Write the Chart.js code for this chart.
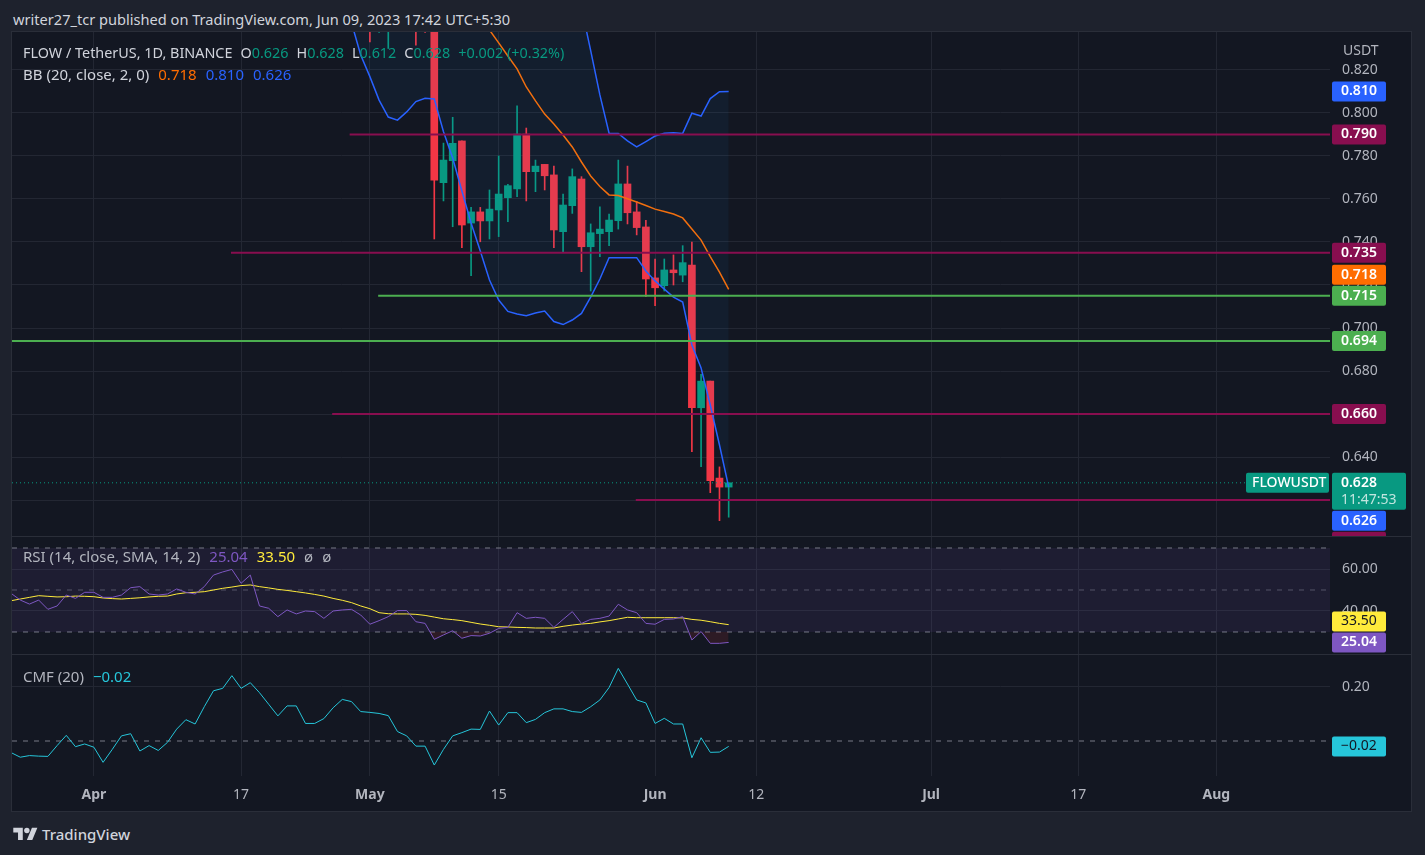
<!DOCTYPE html>
<html>
<head>
<meta charset="utf-8">
<title>FLOW / TetherUS 1D</title>
<script src="https://cdn.jsdelivr.net/npm/chart.js@4.4.1/dist/chart.umd.min.js"></script>
<style>
  body { margin: 0; width: 1425px; height: 855px; background: #1e222d; overflow: hidden; position: relative;
         font-family: "Noto Sans", "DejaVu Sans", sans-serif; color: #d1d4dc; }
  .abs { position: absolute; }
  #frame { left: 11px; top: 31px; width: 1401px; height: 781px; border: 1px solid #2a2e39; box-sizing: border-box; background: #131722; }
  .sep { left: 12px; width: 1399px; height: 1px; background: #2a2e39; }
  canvas { position: absolute; left: 12px; }
  .leg { left: 23px; font-size: 15px; line-height: 20px; white-space: pre; color: #d1d4dc; }
  .leg span { margin-left: 9px; }
  .leg span.v { margin-left: 0; }
  #legMain { font-size: 14.4px; }
  #legMain span { margin-left: 8px; }
  #legMain span.v { margin-left: 0; }
</style>
</head>
<body>
<div class="abs" style="left:13px;top:8px;font-size:14.6px;line-height:22px;color:#d1d4dc">writer27_tcr published on TradingView.com, Jun 09, 2023 17:42 UTC+5:30</div>
<div id="frame" class="abs"></div>
<canvas id="main" width="1398" height="504" style="top:32px"></canvas>
<div class="abs sep" style="top:536px"></div>
<canvas id="rsi" width="1398" height="117" style="top:537px"></canvas>
<div class="abs sep" style="top:654px"></div>
<canvas id="cmf" width="1398" height="155" style="top:655px"></canvas>
<div id="legMain" class="abs leg" style="top:43px"></div>
<div id="legBB" class="abs leg" style="top:64px"></div>
<div id="legRsi" class="abs leg" style="top:546px"></div>
<div id="legCmf" class="abs leg" style="top:666px"></div>
<div class="abs" style="left:13px;top:824px;display:flex;align-items:center">
  <svg width="25" height="19" viewBox="0 0 36 28"><path fill="#d1d4dc" d="M14 22H7V11H0V4h14v18zM28 22h-8l7.5-18h8L28 22z"/><circle fill="#d1d4dc" cx="20" cy="8" r="4"/></svg>
  <span style="margin-left:4px;font-size:15px;font-weight:500;color:#d1d4dc">TradingView</span>
</div>
<script>
// day 0 = 1 Apr 2023, one unit per daily candle
const timeTickDays = [0, 16, 30, 44, 61, 72, 91, 107, 122];
const timeTickLabels = ['Apr', '17', 'May', '15', 'Jun', '12', 'Jul', '17', 'Aug'];

// FLOW/USDT daily candles, first one is 1 May (day 30)
const candleFirstDay = 30;
const opens  = [0.872, 0.845, 0.848, 0.870, 0.855, 0.868, 0.852,
  0.845, 0.7676, 0.7778, 0.787, 0.7488, 0.754, 0.7498, 0.7549, 0.7606, 0.7647, 0.7902, 0.7727, 0.7761, 0.7712,
  0.7448, 0.7569, 0.7693, 0.7378, 0.7439, 0.7448, 0.7499, 0.767, 0.754, 0.747, 0.7233, 0.7197, 0.727, 0.7246,
  0.7293, 0.6629, 0.6753, 0.6302, 0.626];
const highs  = [0.880, 0.870, 0.866, 0.878, 0.875, 0.875, 0.862,
  0.852, 0.786, 0.798, 0.787, 0.7561, 0.7561, 0.7642, 0.780, 0.7668, 0.8033, 0.793, 0.7781, 0.7761, 0.7753,
  0.7623, 0.774, 0.7704, 0.7484, 0.7563, 0.753, 0.7781, 0.7753, 0.7588, 0.7501, 0.7321, 0.7321, 0.734, 0.7383,
  0.740, 0.6784, 0.6753, 0.6354, 0.628];
const lows   = [0.833, 0.8375, 0.830, 0.845, 0.846, 0.8316, 0.8375,
  0.7414, 0.7591, 0.7471, 0.7374, 0.7243, 0.7401, 0.7414, 0.7425, 0.7494, 0.7611, 0.7591, 0.7634, 0.7642, 0.7374,
  0.7355, 0.7533, 0.7262, 0.7172, 0.7332, 0.7383, 0.746, 0.7484, 0.7433, 0.7146, 0.7104, 0.7172, 0.720, 0.7215,
  0.6425, 0.6355, 0.6234, 0.6104, 0.612];
const closes = [0.850, 0.862, 0.858, 0.855, 0.866, 0.848, 0.845,
  0.7688, 0.7781, 0.7859, 0.7479, 0.754, 0.7498, 0.7553, 0.7623, 0.7662, 0.7902, 0.7727, 0.7753, 0.7708, 0.7456,
  0.7572, 0.7704, 0.7378, 0.7443, 0.746, 0.7502, 0.767, 0.7536, 0.7467, 0.7228, 0.7187, 0.727, 0.7257, 0.7304,
  0.6629, 0.6753, 0.629, 0.626, 0.628];

// Bollinger bands (20, 2)
const bandFirstDay = 28;
const bbUpper = [0.978, 0.981, 0.975, 0.968, 0.964, 0.958, 0.955, 0.951, 0.946, 0.941, 0.949, 0.952, 0.947,
  0.944, 0.936, 0.929, 0.921, 0.915, 0.904, 0.897, 0.889, 0.884, 0.876, 0.868, 0.861,
  0.849, 0.829, 0.8084, 0.7906, 0.7905, 0.787, 0.7842, 0.7867, 0.7893, 0.7906, 0.7908, 0.7905,
  0.7999, 0.7986, 0.8067, 0.8099, 0.810];
const bbLower = [0.842, 0.827, 0.8169, 0.806, 0.7981, 0.7967, 0.8005, 0.8053, 0.8068, 0.8065, 0.7913, 0.7791,
  0.7637, 0.7488, 0.7358, 0.7223, 0.713, 0.7077, 0.7065, 0.7057, 0.707, 0.7079, 0.703, 0.7016, 0.7037,
  0.7068, 0.7144, 0.7228, 0.7327, 0.7327, 0.7327, 0.7327, 0.7265, 0.7219, 0.7181, 0.7144, 0.7121,
  0.6921, 0.6814, 0.6642, 0.6456, 0.626];
const basisFirstDay = 40;
const bbBasis = [0.862, 0.857, 0.851, 0.8386, 0.8326, 0.8265, 0.8205, 0.8121, 0.8056, 0.7995, 0.7949, 0.7898,
  0.7842, 0.7772, 0.7707, 0.7658, 0.7619, 0.7616, 0.7601, 0.7586, 0.757, 0.7553, 0.7542, 0.753, 0.7512,
  0.746, 0.7409, 0.7332, 0.726, 0.718];

// drawn support / resistance lines: price and day where each one starts
const levelPrices = [0.790, 0.735, 0.715, 0.694, 0.660, 0.620];
const levelStartDays = [27.8, 14.9, 30.9, -9.2, 25.9, 58.9];

// indicators, first value is 23 Mar (day -9)
const indFirstDay = -9;
const rsiValues = [48.4, 45.2, 43.3, 45.2, 40.8, 42.4, 47.6, 46.0, 48.9, 48.9, 46.5, 46.5, 47.6, 51.1, 51.6,
  48.1, 47.6, 48.1, 50.5, 48.9, 48.1, 51.6, 57.1, 58.6, 59.8, 53.2, 57.1, 42.4, 41.3, 37.3, 40.5, 38.6, 40.0,
  39.7, 36.5, 40.0, 40.5, 40.8, 38.1, 33.7, 35.4, 37.3, 40.2, 40.2, 34.9, 34.1, 26.5, 28.6, 30.6, 27.0, 28.3,
  28.1, 29.4, 31.7, 32.2, 39.2, 36.5, 37.0, 36.5, 32.2, 36.0, 39.7, 34.1, 36.0, 36.5, 37.6, 43.2, 40.5, 39.2,
  34.1, 33.7, 36.0, 36.2, 37.3, 26.2, 30.2, 24.6, 24.6, 25.04];
const rsiSma = [44.9, 45.7, 46.5, 47.3, 47.0, 46.7, 46.8, 47.1, 47.0, 46.8, 46.2, 45.9, 45.7, 46.0, 46.3, 46.7,
  47.0, 47.1, 48.1, 48.7, 48.9, 49.2, 50.0, 50.8, 51.4, 52.1, 52.4, 51.6, 51.0, 50.3, 49.8, 49.2, 48.6, 47.9,
  47.1, 46.0, 45.1, 44.0, 42.4, 41.1, 39.2, 38.7, 38.6, 38.6, 38.4, 37.9, 37.1, 36.3, 35.9, 35.4, 34.6, 33.8,
  33.2, 32.5, 32.4, 32.2, 32.1, 31.9, 31.9, 31.9, 32.7, 33.3, 33.8, 34.1, 34.8, 35.4, 36.2, 37.0, 36.8, 36.8,
  36.8, 36.8, 36.8, 36.7, 36.0, 35.6, 34.9, 34.1, 33.50];
const cmfValues = [-0.043, -0.060, -0.054, -0.056, -0.057, -0.017, 0.021, -0.021, -0.011, -0.023, -0.079,
  -0.031, 0.019, 0.027, -0.037, -0.017, -0.035, -0.005, 0.044, 0.079, 0.063, 0.127, 0.186, 0.195, 0.242,
  0.195, 0.216, 0.179, 0.136, 0.093, 0.130, 0.130, 0.065, 0.065, 0.083, 0.123, 0.154, 0.146, 0.109, 0.106,
  0.102, 0.094, 0.035, 0.019, -0.019, -0.019, -0.089, -0.031, 0.019, 0.031, 0.044, 0.043, 0.111, 0.059,
  0.105, 0.105, 0.068, 0.080, 0.105, 0.119, 0.119, 0.109, 0.106, 0.127, 0.152, 0.198, 0.269, 0.211, 0.152,
  0.141, 0.065, 0.084, 0.063, 0.063, -0.062, 0.012, -0.042, -0.041, -0.02];

// ---- styling ----
const UP = '#089981', DOWN = '#f23645';
const BLUE = '#2962ff', ORANGE = '#ff6d00';
const RES = '#880e4f', SUP = '#4caf50';
const levelColors = [RES, RES, SUP, SUP, RES, RES];
const RSI_COL = '#7e57c2', SMA_COL = '#ffeb3b', CMF_COL = '#26c6da';
const GRID = '#232733', AXIS_TEXT = '#b2b5be', LEVEL = '#787b86';
const X_MIN = -8.9, X_MAX = 134.36;

Chart.defaults.font.family = '"Noto Sans", "DejaVu Sans", sans-serif';
Chart.defaults.font.size = 14;

const pts = (first, arr) => arr.map((v, i) => ({x: first + i, y: v}));
const hline = (from, v) => [{x: from, y: v}, {x: X_MAX, y: v}];
const fmt3 = v => v.toFixed(3);
const fmt2 = v => (v < 0 ? '\u2212' : '') + Math.abs(v).toFixed(2);

function timeAxis(labels) {
  return {
    type: 'linear', min: X_MIN, max: X_MAX, offset: false,
    afterBuildTicks: s => { s.ticks = timeTickDays.map(v => ({value: v})); },
    afterFit: s => { s.height = labels ? 34 : 0; s.paddingLeft = 0; s.paddingRight = 0; },
    grid: {color: GRID, drawTicks: false, offset: false},
    border: {display: false},
    ticks: {
      display: labels, padding: 11, color: AXIS_TEXT, maxRotation: 0, autoSkip: false,
      callback: v => timeTickLabels[timeTickDays.indexOf(v)],
      font: c => ({size: 14, weight: c.tick && isNaN(timeTickLabels[timeTickDays.indexOf(c.tick.value)]) ? 'bold' : 'normal'})
    }
  };
}

function valueAxis(min, max, values, fmt) {
  return {
    position: 'right', min, max,
    afterBuildTicks: s => { s.ticks = values.map(v => ({value: v})); },
    afterFit: s => { s.width = 80; s.paddingTop = 0; s.paddingBottom = 0; },
    grid: {color: GRID, drawTicks: false},
    border: {display: false},
    ticks: {color: AXIS_TEXT, padding: 12, callback: fmt}
  };
}

// price tags on the right axis, pushed apart when they overlap
function tagPlugin(tags, extra) {
  return {
    id: 'tags',
    afterDraw(chart) {
      const ctx = chart.ctx, ys = chart.scales.y, left = chart.chartArea.right + 2;
      const placed = [];
      ctx.save();
      ctx.textBaseline = 'middle';
      ctx.textAlign = 'left';
      if (extra) extra(chart, ctx);
      for (const t of tags) {
        const h = t.h || 20;
        let top = ys.getPixelForValue(t.value) - (t.anchor || h / 2);
        for (let k = 0; k < 10; k++) {
          const hit = placed.find(p => top < p.bottom && top + h > p.top);
          if (!hit) break;
          top = t.value < hit.value ? hit.bottom + 1 : hit.top - h - 1;
        }
        placed.push({value: t.value, top, bottom: top + h});
        ctx.fillStyle = t.bg;
        ctx.beginPath();
        ctx.roundRect(left, top, t.w || 54, h, 2);
        ctx.fill();
        ctx.fillStyle = t.fg;
        ctx.font = (t.fg === '#ffffff' ? '600 ' : '') + '14px "Noto Sans"';
        ctx.fillText(t.text, left + 9, top + 10);
        if (t.sub) {
          ctx.fillStyle = 'rgba(255,255,255,0.75)';
          ctx.font = '14px "Noto Sans"';
          ctx.fillText(t.sub, left + 9, top + 27);
        }
      }
      ctx.restore();
    }
  };
}

const last = closes.length - 1;

// ---- main price pane ----
const candleDays = closes.map((c, i) => candleFirstDay + i);
const candleCols = closes.map((c, i) => c >= opens[i] ? UP : DOWN);

const priceTag = {value: closes[last], text: fmt3(closes[last]), sub: '11:47:53', bg: UP, fg: '#ffffff', w: 74, h: 37, anchor: 10};
const levelTags = levelPrices.map((v, i) => ({value: v, text: fmt3(v), bg: levelColors[i], fg: '#ffffff'}));
const bbTags = [
  {value: bbUpper[bbUpper.length - 1], text: fmt3(bbUpper[bbUpper.length - 1]), bg: BLUE, fg: '#ffffff'},
  {value: bbBasis[bbBasis.length - 1], text: fmt3(bbBasis[bbBasis.length - 1]), bg: ORANGE, fg: '#ffffff'},
  {value: bbLower[bbLower.length - 1], text: fmt3(bbLower[bbLower.length - 1]), bg: BLUE, fg: '#ffffff'}
];
// the level hidden under the last-price tag is placed last, as TradingView does
const mainTags = [priceTag, ...levelTags.slice(0, 5), ...bbTags, levelTags[5]];

function mainExtra(chart, ctx) {
  const ca = chart.chartArea, py = chart.scales.y.getPixelForValue(closes[last]);
  ctx.fillStyle = AXIS_TEXT;
  ctx.font = '14px "Noto Sans"';
  ctx.fillText('USDT', ca.right + 13, 19);
  ctx.fillStyle = UP;
  ctx.beginPath();
  ctx.roundRect(ca.right - 84, py - 10, 83, 20, 2);
  ctx.fill();
  ctx.fillStyle = '#ffffff';
  ctx.font = '500 14px "Noto Sans"';
  ctx.fillText('FLOWUSDT', ca.right - 78, py);
}

const levelSets = levelPrices.map((v, i) => ({
  type: 'line', data: hline(levelStartDays[i], v), borderColor: levelColors[i], borderWidth: 2, pointRadius: 0
}));

new Chart(document.getElementById('main'), {
  type: 'bar',
  data: {
    datasets: [
      ...levelSets,
      {type: 'line', data: hline(X_MIN, closes[last]), borderColor: UP, borderWidth: 1, borderDash: [1, 3], pointRadius: 0},
      {type: 'line', data: pts(bandFirstDay, bbUpper), borderColor: BLUE, borderWidth: 1.5, pointRadius: 0},
      {type: 'line', data: pts(bandFirstDay, bbLower), borderColor: BLUE, borderWidth: 1.5, pointRadius: 0,
       fill: '-1', backgroundColor: 'rgba(33,150,243,0.06)'},
      {type: 'line', data: pts(basisFirstDay, bbBasis), borderColor: ORANGE, borderWidth: 1.5, pointRadius: 0},
      {data: candleDays.map((d, i) => ({x: d, y: [opens[i], closes[i]]})), backgroundColor: candleCols,
       barThickness: 7, minBarLength: 1, grouped: false, borderWidth: 0},
      {data: candleDays.map((d, i) => ({x: d, y: [lows[i], highs[i]]})), backgroundColor: candleCols,
       barThickness: 1, grouped: false, borderWidth: 0}
    ]
  },
  options: {
    responsive: false, animation: false, events: [],
    layout: {padding: 0},
    plugins: {legend: {display: false}, tooltip: {enabled: false}},
    scales: {
      x: timeAxis(false),
      y: valueAxis(0.60326, 0.83767, [0.62, 0.64, 0.66, 0.68, 0.70, 0.72, 0.74, 0.76, 0.78, 0.80, 0.82], fmt3)
    }
  },
  plugins: [tagPlugin(mainTags, mainExtra)]
});

// ---- RSI pane ----
const rsiLast = rsiValues[rsiValues.length - 1], smaLast = rsiSma[rsiSma.length - 1];
new Chart(document.getElementById('rsi'), {
  type: 'line',
  data: {
    datasets: [
      {data: pts(indFirstDay, rsiValues), borderColor: RSI_COL, borderWidth: 1, pointRadius: 0,
       fill: {target: {value: 30}, above: 'rgba(0,0,0,0)', below: 'rgba(242,54,69,0.12)'}},
      {data: pts(indFirstDay, rsiSma), borderColor: SMA_COL, borderWidth: 1, pointRadius: 0},
      {data: hline(X_MIN, 70), borderColor: LEVEL, borderWidth: 1, borderDash: [5, 6], pointRadius: 0,
       fill: '+2', backgroundColor: 'rgba(126,87,194,0.1)'},
      {data: hline(X_MIN, 50), borderColor: 'rgba(120,123,134,0.6)', borderWidth: 1, borderDash: [5, 6], pointRadius: 0},
      {data: hline(X_MIN, 30), borderColor: LEVEL, borderWidth: 1, borderDash: [5, 6], pointRadius: 0}
    ]
  },
  options: {
    responsive: false, animation: false, events: [],
    layout: {padding: 0},
    plugins: {legend: {display: false}, tooltip: {enabled: false}},
    scales: {x: timeAxis(false), y: valueAxis(19.52, 75.24, [40, 60], v => v.toFixed(2))}
  },
  plugins: [tagPlugin([
    {value: rsiLast, text: rsiLast.toFixed(2), bg: RSI_COL, fg: '#ffffff'},
    {value: smaLast, text: smaLast.toFixed(2), bg: SMA_COL, fg: '#131722'}
  ])]
});

// ---- CMF pane ----
const cmfLast = cmfValues[cmfValues.length - 1];
new Chart(document.getElementById('cmf'), {
  type: 'line',
  data: {
    datasets: [
      {data: pts(indFirstDay, cmfValues), borderColor: CMF_COL, borderWidth: 1, pointRadius: 0},
      {data: hline(X_MIN, 0), borderColor: LEVEL, borderWidth: 1, borderDash: [5, 6], pointRadius: 0}
    ]
  },
  options: {
    responsive: false, animation: false, events: [],
    layout: {padding: 0},
    plugins: {legend: {display: false}, tooltip: {enabled: false}},
    scales: {x: timeAxis(true), y: valueAxis(-0.1296, 0.3185, [0.2], v => v.toFixed(2))}
  },
  plugins: [tagPlugin([{value: cmfLast, text: fmt2(cmfLast), bg: CMF_COL, fg: '#131722'}])]
});

// ---- legends ----
const chg = closes[last] - closes[last - 1];
const chgCol = chg >= 0 ? UP : DOWN;
const sp = (txt, col, cls) => `<span class="${cls || ''}" style="color:${col}">${txt}</span>`;
document.getElementById('legMain').innerHTML = 'FLOW / TetherUS, 1D, BINANCE' +
  sp('O', '#d1d4dc') + sp(fmt3(opens[last]), chgCol, 'v') +
  sp('H', '#d1d4dc') + sp(fmt3(highs[last]), chgCol, 'v') +
  sp('L', '#d1d4dc') + sp(fmt3(lows[last]), chgCol, 'v') +
  sp('C', '#d1d4dc') + sp(fmt3(closes[last]), chgCol, 'v') +
  sp((chg >= 0 ? '+' : '') + chg.toFixed(3) + ' (' + (chg >= 0 ? '+' : '') + (chg / closes[last - 1] * 100).toFixed(2) + '%)', chgCol);
document.getElementById('legBB').innerHTML = 'BB (20, close, 2, 0)' +
  sp(fmt3(bbBasis[bbBasis.length - 1]), ORANGE) + sp(fmt3(bbUpper[bbUpper.length - 1]), BLUE) +
  sp(fmt3(bbLower[bbLower.length - 1]), BLUE);
document.getElementById('legRsi').innerHTML = '<span class="v" style="color:#b2b5be">RSI (14, close, SMA, 14, 2)</span>' +
  sp(rsiLast.toFixed(2), RSI_COL) + sp(smaLast.toFixed(2), SMA_COL) + sp('\u00f8', '#b2b5be') + sp('\u00f8', '#b2b5be');
document.getElementById('legCmf').innerHTML = '<span class="v" style="color:#b2b5be">CMF (20)</span>' +
  sp(fmt2(cmfLast), CMF_COL);
</script>
</body>
</html>
